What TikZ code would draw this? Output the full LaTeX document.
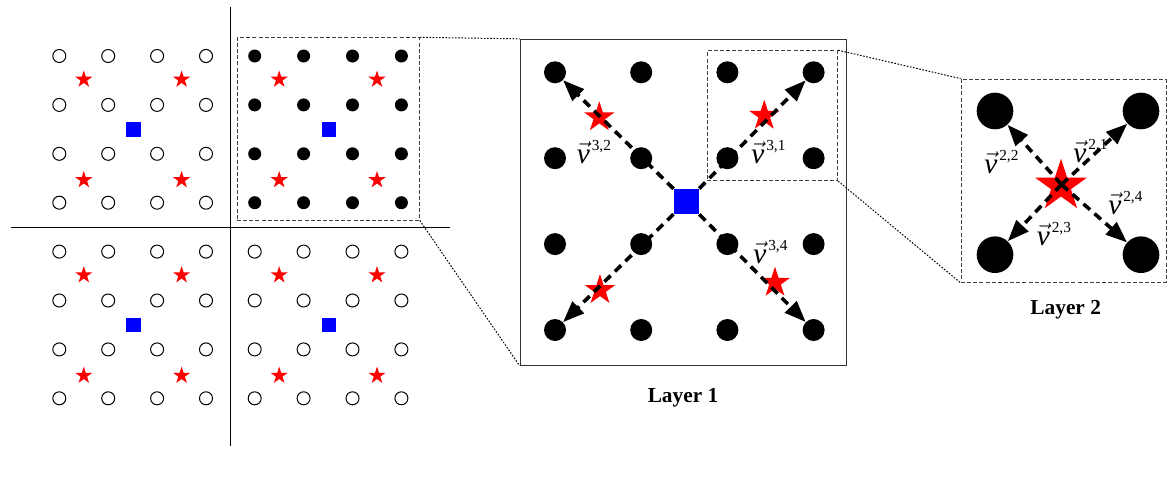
\documentclass[tikz,border=0pt]{standalone}
\usepackage{fontspec}
\setmainfont{Liberation Serif}
\usetikzlibrary{shapes.geometric,arrows.meta}
% vector label: italic v with arrow accent and an upright superscript pair
\newcommand{\vlab}[1]{{\fontsize{22}{26}\selectfont$\vec{\mbox{\itshape v}}$}\hspace{1.5pt}\raisebox{9.5pt}{\fontsize{11.5}{13}\selectfont #1}}
\begin{document}
\begin{tikzpicture}[x=0.75pt,y=-0.75pt,
  ptopen/.style={circle,draw=black,line width=0.75pt,fill=white,minimum size=9.75pt,inner sep=0pt},
  ptfull/.style={circle,fill=black,minimum size=9.75pt,inner sep=0pt},
  smallstar/.style={star,star points=5,star point ratio=2.618,fill=red,minimum size=13.5pt,inner sep=0pt},
  smallsq/.style={rectangle,fill=blue,minimum size=11pt,inner sep=0pt},
  bigdot/.style={circle,fill=black,minimum size=16.5pt,inner sep=0pt},
  bigsq/.style={rectangle,fill=blue,minimum size=19pt,inner sep=0pt},
  bigstar/.style={star,star points=5,star point ratio=2.618,fill=red,minimum size=24pt,inner sep=0pt},
  hugedot/.style={circle,fill=black,minimum size=27.5pt,inner sep=0pt},
  hugestar/.style={star,star points=5,star point ratio=2.618,fill=red,minimum size=41pt,inner sep=0pt},
  vecarrow/.style={line width=2.7pt,dash pattern=on 6.5pt off 4.5pt,
    -{Triangle[length=16pt 0,width=12pt 0]}},
  zoombox/.style={draw=black!75,line width=0.7pt,dash pattern=on 3pt off 1.6pt},
  zoomline/.style={draw=black,line width=0.75pt,dash pattern=on 1.2pt off 1.2pt},
  divider/.style={draw=black,line width=0.9pt},
  vtext/.style={anchor=base west,inner sep=0pt},
  layertext/.style={font=\fontsize{16}{18}\selectfont\bfseries,inner sep=0pt}
]
\useasboundingbox (0,0) rectangle (1167,493);

% ---- four quadrants of the lattice ----
\foreach \q/\qx/\qy/\kind in {a/0/0/ptopen, b/1/0/ptfull, c/0/1/ptopen, d/1/1/ptopen}{
  \foreach \i in {0,...,3}{
    \foreach \j in {0,...,3}{
      \node[\kind] (\q-\i-\j) at ({59.3+195.4*\qx+48.9*\i},{56+195.6*\qy+48.9*\j}) {};
    }
  }
  \foreach \a in {0,1}{
    \foreach \b in {0,1}{
      \node[smallstar] (\q-s-\a-\b) at ({83.8+195.4*\qx+97.8*\a},{79.5+195.6*\qy+100.5*\b}) {};
    }
  }
  \node[smallsq] (\q-sq) at ({133.6+195.4*\qx},{129.3+195.6*\qy}) {};
}

% quadrant dividers
\coordinate (vtop) at (230.5,7);
\coordinate (vbot) at (230.5,446);
\coordinate (hleft) at (11,227.5);
\coordinate (hright) at (450,227.5);
\draw[divider] (vtop) -- (vbot);
\draw[divider] (hleft) -- (hright);

% highlighted quadrant
\node[zoombox,rectangle,inner sep=0pt,minimum width=136.7pt,minimum height=136.7pt] (dbox) at (328.2,128.9) {};

% ---- Layer 1 ----
\node[draw=black!80,line width=0.75pt,rectangle,inner sep=0pt,minimum width=244.5pt,minimum height=244.3pt] (L1) at (683,202.2) {};
\foreach \i in {0,...,3}{
  \foreach \j in {0,...,3}{
    \node[bigdot] (l-\i-\j) at ({555+86.2*\i},{72.3+85.9*\j}) {};
  }
}
\node[zoombox,rectangle,inner sep=0pt,minimum width=97.8pt,minimum height=97.5pt] (ibox) at (772.5,115.7) {};
\node[bigstar] (ls1) at (764.3,115.7) {};
\node[bigstar] (ls2) at (599.3,117.3) {};
\node[bigstar] (ls3) at (600,290) {};
\node[bigstar] (ls4) at (775,282.7) {};
\node[bigsq] (lsq) at (686.5,201.5) {};
\draw[vecarrow] (lsq) -- (l-3-0);
\draw[vecarrow] (lsq) -- (l-0-0);
\draw[vecarrow] (lsq) -- (l-0-3);
\draw[vecarrow] (lsq) -- (l-3-3);
\node[vtext] (lab31) at (751,163) {\vlab{3,1}};
\node[vtext] (lab32) at (576.5,163) {\vlab{3,2}};
\node[vtext] (lab34) at (753,263) {\vlab{3,4}};
\node[layertext] (t1) at (683,398) {Layer 1};

% zoom connectors into Layer 1
\draw[zoomline] (dbox.north east) -- (L1.north west);
\draw[zoomline] (dbox.south east) -- (L1.south west);

% ---- Layer 2 ----
\node[zoombox,rectangle,inner sep=0pt,minimum width=153.7pt,minimum height=152.5pt] (L2) at (1063.5,180.7) {};
\node[hugedot] (m1) at (1141,111) {};
\node[hugedot] (m2) at (995,111) {};
\node[hugedot] (m3) at (995,254.7) {};
\node[hugedot] (m4) at (1141,254.7) {};
\node[hugestar] (ms) at (1061,186) {};
\coordinate (mc) at (1061.5,184.5);
\draw[vecarrow] (mc) -- (m1);
\draw[vecarrow] (mc) -- (m2);
\draw[vecarrow] (mc) -- (m3);
\draw[vecarrow] (mc) -- (m4);
\draw[line width=2.4pt] ([shift={(-4.5,-4.5)}]mc) -- ([shift={(4.5,4.5)}]mc)
  ([shift={(-4.5,4.5)}]mc) -- ([shift={(4.5,-4.5)}]mc);
\node[vtext] (lab21) at (1073,162) {\vlab{2,1}};
\node[vtext] (lab22) at (984,173) {\vlab{2,2}};
\node[vtext] (lab23) at (1036.5,245.5) {\vlab{2,3}};
\node[vtext] (lab24) at (1108,214) {\vlab{2,4}};
\node[layertext] (t2) at (1065.7,310) {Layer 2};

% zoom connectors into Layer 2
\draw[zoomline] (ibox.north east) -- (L2.north west);
\draw[zoomline] (ibox.south east) -- (L2.south west);
\end{tikzpicture}
\end{document}
